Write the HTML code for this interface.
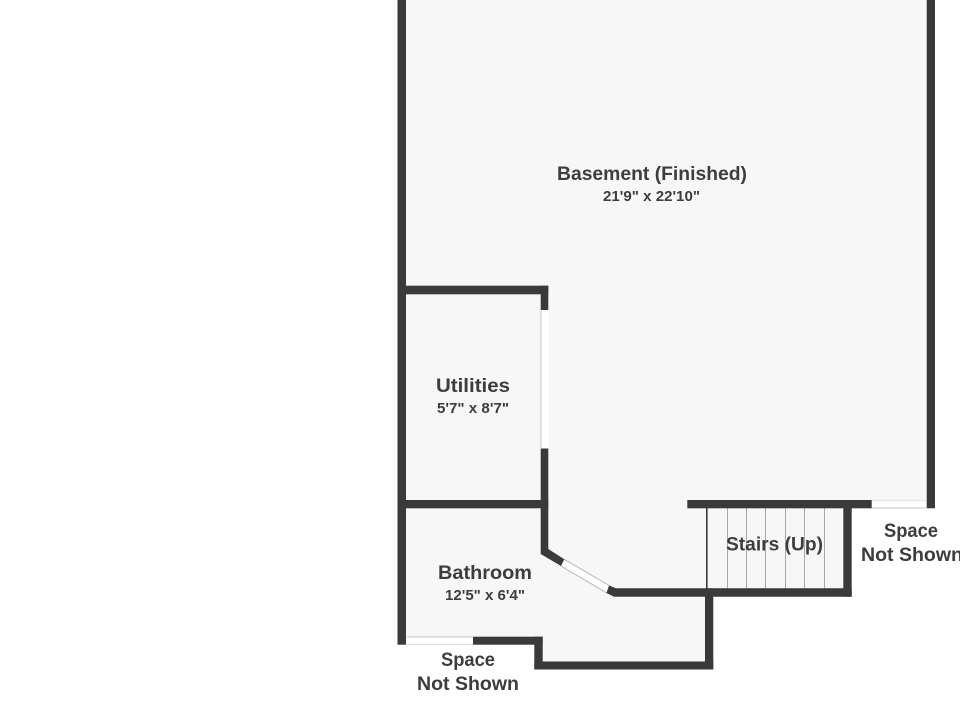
<!DOCTYPE html>
<html>
<head>
<meta charset="utf-8">
<style>
html,body{margin:0;padding:0;background:#fff;width:960px;height:720px;overflow:hidden}
svg{display:block}
text{font-family:"Liberation Sans",sans-serif;fill:#3d3d3d;font-weight:bold}
.t{font-size:19.5px}
.d{font-size:14.5px}
</style>
</head>
<body>
<svg width="960" height="720" viewBox="0 0 960 720" xmlns="http://www.w3.org/2000/svg">
<polygon fill="#f7f7f7" points="400,0 930,0 930,504 848,504 848,592 709,592 709,665 538,665 538,640 400,640"/>
<rect x="407" y="637" width="66" height="8" fill="#fff"/>
<line x1="407" y1="637" x2="473" y2="637" stroke="#c4c4c4" stroke-width="1"/>
<line x1="407" y1="644.5" x2="473" y2="644.5" stroke="#d8d8d8" stroke-width="1"/>
<rect x="872" y="500.5" width="54" height="8" fill="#fff"/>
<line x1="872" y1="508" x2="926" y2="508" stroke="#c4c4c4" stroke-width="1"/>
<line x1="872" y1="500.5" x2="926" y2="500.5" stroke="#e4e4e4" stroke-width="1"/>
<rect x="541" y="310" width="7.5" height="138.5" fill="#fff"/>
<line x1="541" y1="310" x2="541" y2="448" stroke="#c4c4c4" stroke-width="1"/>
<polygon points="564.3,559.3 610,586 607.3,593.3 561,566" fill="#fff"/>
<line x1="561" y1="566" x2="607.3" y2="593.3" stroke="#b5b5b5" stroke-width="1"/>
<line x1="564.3" y1="559.3" x2="610" y2="586" stroke="#b5b5b5" stroke-width="1"/>
<g stroke="#a8a8a8" stroke-width="1">
<line x1="727.5" y1="508" x2="727.5" y2="589"/>
<line x1="746.5" y1="508" x2="746.5" y2="589"/>
<line x1="765.5" y1="508" x2="765.5" y2="589"/>
<line x1="785.5" y1="508" x2="785.5" y2="589"/>
<line x1="804.5" y1="508" x2="804.5" y2="589"/>
<line x1="824.5" y1="508" x2="824.5" y2="589"/>
</g>
<g fill="#3a3a3a">
<rect x="397.5" y="0" width="8.5" height="644.7"/>
<rect x="926.7" y="0" width="8.3" height="508.3"/>
<rect x="397.5" y="285.7" width="150.8" height="8.6"/>
<rect x="540.7" y="285.7" width="7.6" height="24.3"/>
<rect x="540.7" y="448.5" width="7.6" height="105.5"/>
<rect x="397.5" y="500" width="150.8" height="8.3"/>
<polygon points="540.7,554 548.3,549 564.3,559.3 561,566"/>
<polygon points="609,585.5 616,588.3 851.7,588.3 851.7,596.7 614,596.7 606.5,593"/>
<rect x="687.3" y="500" width="184.4" height="8.3"/>
<rect x="843.3" y="500" width="8.4" height="96.7"/>
<rect x="706" y="508" width="1.6" height="81"/>
<rect x="705" y="588.3" width="8.3" height="81"/>
<rect x="534.3" y="661.5" width="179" height="8"/>
<rect x="534.3" y="636.7" width="8.4" height="32.8"/>
<rect x="473" y="636.7" width="69.7" height="8"/>
</g>
<text class="t" x="557" y="180" textLength="190" lengthAdjust="spacingAndGlyphs">Basement (Finished)</text>
<text class="d" x="603" y="201" textLength="97" lengthAdjust="spacingAndGlyphs">21'9" x 22'10"</text>
<text class="t" x="436" y="392" textLength="74" lengthAdjust="spacingAndGlyphs">Utilities</text>
<text class="d" x="437" y="413" textLength="72" lengthAdjust="spacingAndGlyphs">5'7" x 8'7"</text>
<text class="t" x="438" y="579" textLength="94" lengthAdjust="spacingAndGlyphs">Bathroom</text>
<text class="d" x="445" y="600" textLength="80" lengthAdjust="spacingAndGlyphs">12'5" x 6'4"</text>
<text class="t" x="726" y="550.5" textLength="97" lengthAdjust="spacingAndGlyphs">Stairs (Up)</text>
<text class="t" x="884" y="537" textLength="54" lengthAdjust="spacingAndGlyphs">Space</text>
<text class="t" x="861" y="561" textLength="102" lengthAdjust="spacingAndGlyphs">Not Shown</text>
<text class="t" x="441" y="666" textLength="54" lengthAdjust="spacingAndGlyphs">Space</text>
<text class="t" x="417" y="690" textLength="102" lengthAdjust="spacingAndGlyphs">Not Shown</text>
</svg>
</body>
</html>
